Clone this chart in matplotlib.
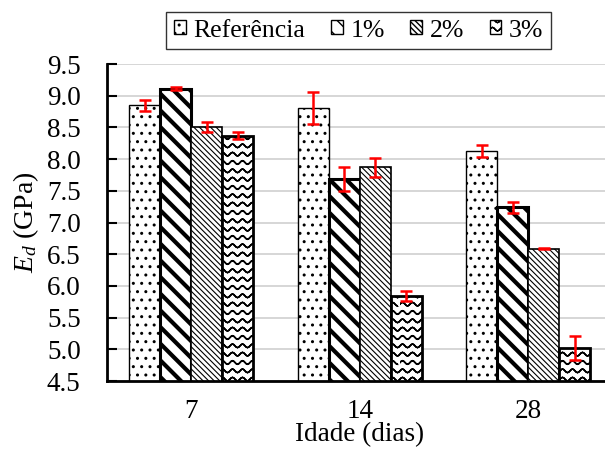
import warnings
import numpy as np
import matplotlib
matplotlib.use("Agg")
import matplotlib.pyplot as plt
from matplotlib import hatch as mhatch
from matplotlib.path import Path
from matplotlib.patches import Patch

warnings.filterwarnings("ignore")

# ---------------- data ----------------
categories = ["7", "14", "28"]
series = ["Referência", "1%", "2%", "3%"]
ref = [8.85, 8.81, 8.13]
ref_err = [0.09, 0.25, 0.09]
p1 = [9.11, 7.68, 7.24]
p1_err = [0.02, 0.19, 0.09]
p2 = [8.50, 7.87, 6.59]
p2_err = [0.08, 0.15, 0.01]
p3 = [8.37, 5.84, 5.02]
p3_err = [0.06, 0.08, 0.19]
yticks = [4.5, 5.0, 5.5, 6.0, 6.5, 7.0, 7.5, 8.0, 8.5, 9.0, 9.5]


# ------------- custom wavy hatch -------------
class WaveHatch(mhatch.HatchPatternBase):
    def __init__(self, hatch, density):
        self.num_lines = int(hatch.count("~") * density)
        self.npts = 81
        self.num_vertices = self.num_lines * self.npts * 2

    def set_vertices_and_codes(self, vertices, codes):
        xs = np.linspace(0, 1, self.npts)
        amp = 0.018
        k = 0
        for i in range(self.num_lines):
            y0 = (i + 0.5) / self.num_lines
            ys = y0 + amp * np.sin(2 * np.pi * 10 * xs)
            pts = np.column_stack([xs, ys])
            both = np.vstack([pts, pts[::-1]])
            n = len(both)
            vertices[k:k + n] = both
            codes[k:k + n] = Path.LINETO
            codes[k] = Path.MOVETO
            k += n


mhatch._hatch_types.append(WaveHatch)

plt.rcParams["font.family"] = ["Liberation Serif", "DejaVu Serif"]
plt.rcParams["mathtext.fontset"] = "custom"
plt.rcParams["mathtext.rm"] = "Liberation Serif"
plt.rcParams["mathtext.it"] = "Liberation Serif:italic"

fig = plt.figure(figsize=(6.05, 4.49), dpi=100)
ax = fig.add_axes([0.177, 0.1514, 0.835, 0.706])

values = [ref, p1, p2, p3]
errors = [ref_err, p1_err, p2_err, p3_err]
hatches = ["..", "\\\\", "\\\\\\\\\\\\", "~~"]
hlw = [1.0, 3.0, 0.8, 1.1]
leg_hlw = [1.0, 3.0, 1.0, 2.0]
elw = [1.0, 2.2, 1.2, 2.0]
x = np.arange(len(categories))
w = 0.184

ax.set_axisbelow(True)
ax.yaxis.grid(True, color="#d0d0d0", linewidth=1.2)

legend_handles = []
for i, (vals, errs) in enumerate(zip(values, errors)):
    offs = (i - 1.5) * w
    with plt.rc_context({"hatch.linewidth": hlw[i]}):
        bars = ax.bar(x + offs, vals, width=w, color="white", edgecolor="black",
                      linewidth=elw[i], hatch=hatches[i], zorder=2)
        for b in bars:
            if hasattr(b, "set_hatch_linewidth"):
                b.set_hatch_linewidth(hlw[i])
        ax.errorbar(x + offs, vals, yerr=errs, fmt="none", ecolor="red",
                    elinewidth=1.8, capsize=4.5, capthick=1.8, zorder=3)
    with plt.rc_context({"hatch.linewidth": leg_hlw[i]}):
        h = Patch(facecolor="white", edgecolor="black", linewidth=1.0,
                  hatch=hatches[i], label=series[i])
        if hasattr(h, "set_hatch_linewidth"):
            h.set_hatch_linewidth(leg_hlw[i])
        legend_handles.append(h)

ax.set_ylim(4.5, 9.5)
ax.set_xlim(-0.5, 2.5)
ax.set_yticks(yticks)
ax.set_yticklabels([f"{v:.1f}" for v in yticks])
ax.set_xticks(x)
ax.set_xticklabels(categories)
ax.tick_params(axis="y", direction="in", length=7, width=1.5, labelsize=19.5, pad=19)
ax.tick_params(axis="x", length=0, labelsize=19.5, pad=13)
for s in ["top", "right"]:
    ax.spines[s].set_visible(False)
ax.spines["left"].set_linewidth(2)
ax.spines["bottom"].set_linewidth(2)

ax.set_xlabel("Idade (dias)", fontsize=19.5, labelpad=-1.5)
ax.set_ylabel("$E_d$ (GPa)", fontsize=20, labelpad=4)

leg = fig.legend(handles=legend_handles, loc="center", bbox_to_anchor=(0.593, 0.932),
                 ncol=4, fontsize=18.5, frameon=True, fancybox=False,
                 edgecolor="black", handlelength=0.45, handleheight=0.45,
                 handletextpad=0.3, columnspacing=1.0, borderpad=0.3,
                 borderaxespad=0.0)
leg.get_frame().set_linewidth(1.0)

fig.savefig("out.png", dpi=100)
